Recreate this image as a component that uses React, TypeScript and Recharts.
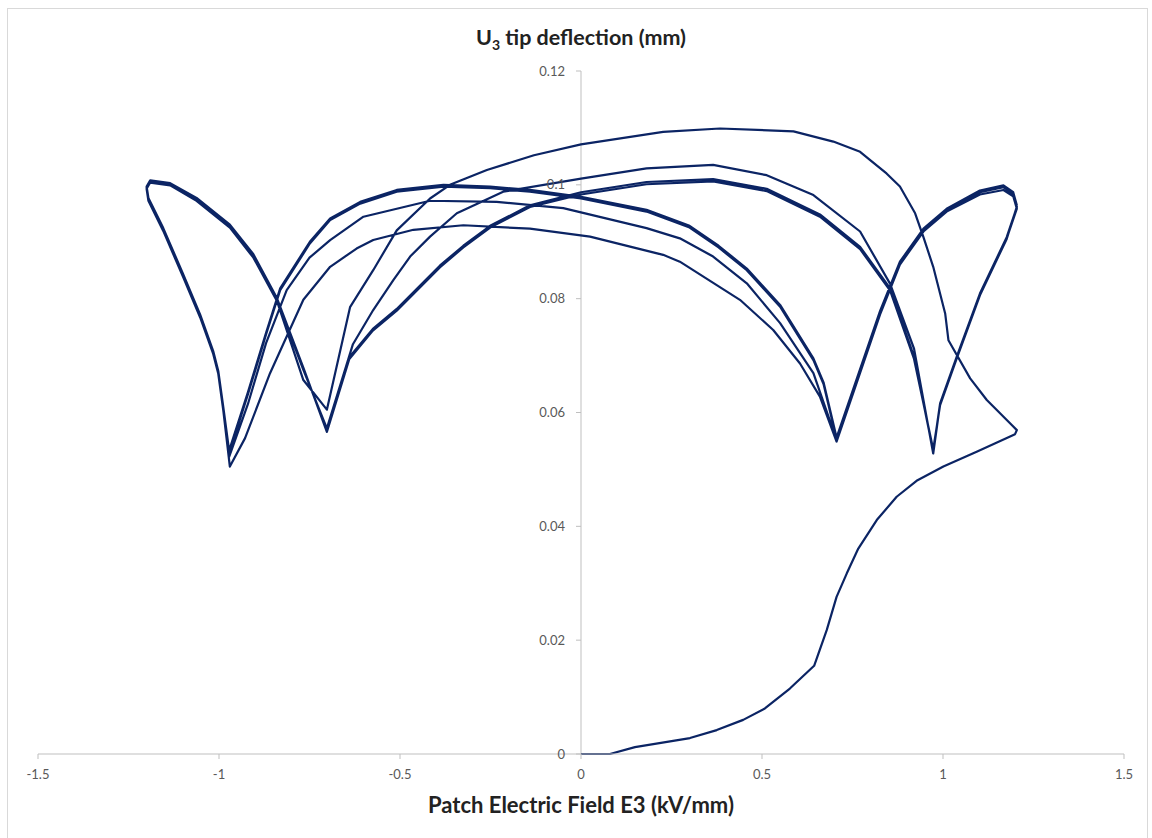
import React from 'react';
import { LineChart, Line, XAxis, YAxis, ReferenceLine } from 'recharts';

// Patch electric field E3 (kV/mm) vs U3 tip deflection (mm), traced in drawing order
const initialLoading: [number, number][] = [
  [0, 0], [0.08, 0], [0.149, 0.0012], [0.301, 0.0028], [0.375, 0.0042], [0.448, 0.006],
  [0.508, 0.008], [0.577, 0.0115], [0.644, 0.0155], [0.679, 0.0218], [0.706, 0.0276],
  [0.734, 0.0317], [0.766, 0.0361], [0.817, 0.0411], [0.872, 0.0452], [0.927, 0.048],
  [1.001, 0.0505], [1.093, 0.0531], [1.199, 0.0562], [1.204, 0.0569],
];

const unload1: [number, number][] = [
  [1.19, 0.0578], [1.121, 0.0622], [1.075, 0.066], [1.015, 0.0727], [1.006, 0.0774],
  [0.973, 0.0856], [0.946, 0.0908], [0.923, 0.095], [0.881, 0.0997], [0.844, 0.102],
  [0.798, 0.1044], [0.771, 0.1058], [0.697, 0.1076], [0.587, 0.1094], [0.384, 0.1099],
  [0.227, 0.1093], [0, 0.1071], [-0.13, 0.1052], [-0.26, 0.1026], [-0.362, 0.1],
  [-0.417, 0.0976], [-0.509, 0.092], [-0.574, 0.085], [-0.638, 0.0785], [-0.702, 0.0605],
  [-0.767, 0.0657], [-0.84, 0.0796], [-0.905, 0.0872], [-0.97, 0.0925], [-1.062, 0.0972],
  [-1.135, 0.0999], [-1.19, 0.1004], [-1.2, 0.0993],
];

const load1: [number, number][] = [
  [-1.195, 0.0972], [-1.154, 0.0919], [-1.099, 0.0838], [-1.052, 0.0767], [-1.016, 0.0703],
  [-1.002, 0.0668], [-0.988, 0.0603], [-0.97, 0.0505], [-0.928, 0.0555], [-0.859, 0.0669],
  [-0.767, 0.0798], [-0.693, 0.0856], [-0.62, 0.0888], [-0.574, 0.0903], [-0.463, 0.0921],
  [-0.325, 0.0929], [-0.141, 0.0923], [0.025, 0.0909], [0.227, 0.0877], [0.273, 0.0865],
  [0.439, 0.0798], [0.531, 0.0745], [0.605, 0.0686], [0.66, 0.0628], [0.706, 0.0549],
  [0.826, 0.0772], [0.881, 0.086], [0.946, 0.0918], [1.01, 0.0953], [1.102, 0.0983],
  [1.167, 0.0991], [1.194, 0.098], [1.204, 0.0958],
];

const unload2: [number, number][] = [
  [1.176, 0.0906], [1.102, 0.0808], [1.038, 0.0697], [0.992, 0.0615], [0.973, 0.0528],
  [0.92, 0.0712], [0.854, 0.0826], [0.771, 0.0918], [0.642, 0.0982], [0.513, 0.1017],
  [0.365, 0.1035], [0.181, 0.1029], [0, 0.1011], [-0.215, 0.0988], [-0.343, 0.095],
  [-0.417, 0.0909], [-0.472, 0.0874], [-0.518, 0.0833], [-0.574, 0.078], [-0.63, 0.072],
  [-0.702, 0.0572], [-0.767, 0.0675], [-0.84, 0.0798], [-0.905, 0.0875], [-0.97, 0.0927],
  [-1.062, 0.0974], [-1.135, 0.1001], [-1.19, 0.1006], [-1.2, 0.0995],
];

const load2: [number, number][] = [
  [-1.195, 0.0974], [-1.154, 0.0921], [-1.099, 0.084], [-1.052, 0.0769], [-1.016, 0.0705],
  [-1.002, 0.067], [-0.988, 0.0606], [-0.972, 0.0522], [-0.92, 0.0615], [-0.87, 0.0722],
  [-0.813, 0.0815], [-0.75, 0.0872], [-0.693, 0.0903], [-0.601, 0.0944], [-0.417, 0.0972],
  [-0.233, 0.097], [-0.049, 0.0959], [0.181, 0.0924], [0.273, 0.0906], [0.365, 0.0874],
  [0.458, 0.0827], [0.55, 0.0757], [0.642, 0.0669], [0.706, 0.0552], [0.826, 0.0775],
  [0.881, 0.0862], [0.946, 0.092], [1.01, 0.0955], [1.102, 0.0987], [1.167, 0.0996],
  [1.194, 0.0984], [1.204, 0.0961],
];

const unload3: [number, number][] = [
  [1.176, 0.0908], [1.102, 0.0809], [1.038, 0.0698], [0.992, 0.0616], [0.973, 0.0532],
  [0.92, 0.0698], [0.854, 0.0818], [0.771, 0.0891], [0.66, 0.0948], [0.513, 0.0993],
  [0.365, 0.101], [0.181, 0.1005], [0, 0.0987], [-0.141, 0.0964], [-0.251, 0.0928],
  [-0.325, 0.0893], [-0.39, 0.0858], [-0.454, 0.0817], [-0.509, 0.0782], [-0.575, 0.0747],
  [-0.64, 0.0697], [-0.702, 0.0568], [-0.767, 0.0677], [-0.84, 0.0799], [-0.905, 0.0876],
  [-0.97, 0.0928], [-1.062, 0.0975], [-1.135, 0.1002], [-1.19, 0.1007], [-1.2, 0.0996],
];

const load3: [number, number][] = [
  [-1.195, 0.0975], [-1.154, 0.0922], [-1.099, 0.0841], [-1.052, 0.077], [-1.016, 0.0706],
  [-1.002, 0.0671], [-0.988, 0.0607], [-0.972, 0.0528], [-0.92, 0.0632], [-0.87, 0.0737],
  [-0.831, 0.0815], [-0.749, 0.0897], [-0.693, 0.0938], [-0.61, 0.0967], [-0.509, 0.0988],
  [-0.38, 0.0997], [-0.251, 0.0994], [-0.141, 0.0988], [0, 0.0976], [0.181, 0.0953],
  [0.3, 0.0925], [0.38, 0.089], [0.458, 0.085], [0.55, 0.0786], [0.642, 0.0692],
  [0.67, 0.065], [0.706, 0.0553], [0.826, 0.0776], [0.881, 0.0863], [0.946, 0.0921],
  [1.01, 0.0956], [1.102, 0.0988], [1.167, 0.0997], [1.194, 0.0985], [1.204, 0.0962],
];

const unload4: [number, number][] = [
  [1.176, 0.0905], [1.102, 0.0806], [1.038, 0.0695], [0.992, 0.0613], [0.973, 0.0535],
  [0.92, 0.0694], [0.854, 0.0814], [0.771, 0.0887], [0.66, 0.0944], [0.513, 0.0989],
  [0.365, 0.1006], [0.181, 0.1001], [0, 0.0983], [-0.141, 0.0961], [-0.251, 0.0925],
  [-0.325, 0.089], [-0.39, 0.0855], [-0.454, 0.0814], [-0.509, 0.0779], [-0.575, 0.0744],
  [-0.64, 0.0694], [-0.702, 0.0566], [-0.767, 0.0679], [-0.84, 0.0801], [-0.905, 0.0878],
  [-0.97, 0.093], [-1.062, 0.0977], [-1.135, 0.1003], [-1.19, 0.1008], [-1.2, 0.0997],
];

const load4: [number, number][] = [
  [-1.195, 0.0977], [-1.154, 0.0924], [-1.099, 0.0843], [-1.052, 0.0772], [-1.016, 0.0708],
  [-1.002, 0.0673], [-0.988, 0.0609], [-0.972, 0.0533], [-0.92, 0.0636], [-0.87, 0.074],
  [-0.831, 0.0818], [-0.749, 0.09], [-0.693, 0.0941], [-0.61, 0.097], [-0.509, 0.0991],
  [-0.38, 0.1], [-0.251, 0.0997], [-0.141, 0.0991], [0, 0.0979], [0.181, 0.0956],
  [0.3, 0.0928], [0.38, 0.0893], [0.458, 0.0853], [0.55, 0.0789], [0.642, 0.0695],
  [0.67, 0.0653], [0.706, 0.0556], [0.826, 0.0778], [0.881, 0.0865], [0.946, 0.0923],
  [1.01, 0.0958], [1.102, 0.099], [1.167, 0.0999], [1.194, 0.0987], [1.204, 0.0964],
];

const xTicks = [-1.5, -1, -0.5, 0, 0.5, 1, 1.5];
const yTicks = [0, 0.02, 0.04, 0.06, 0.08, 0.1, 0.12];
const yTickLabels = ['0', '0.02', '0.04', '0.06', '0.08', '0.1', '0.12'];

const segments = [initialLoading, unload1, load1, unload2, load2, unload3, load3, unload4, load4];
const data = segments.flat().map(([e, u]) => ({ e, u }));

const AXIS_GRAY = '#bfbfbf';
const TEXT_GRAY = '#595959';
const LINE_COLOR = '#0b2464';
const FONT = 'Lato, "Open Sans", sans-serif';

export default function App() {
  return (
    <div style={{ position: 'absolute', left: 0, top: 0, width: 1152, height: 838, background: '#fff', fontFamily: FONT, overflow: 'hidden' }}>
      <div style={{ position: 'absolute', left: 7, top: 8, width: 1141, height: 850, border: '1px solid #d9d9d9', boxSizing: 'border-box' }} />
      <div style={{ position: 'absolute', left: 0, top: 0 }}>
        <LineChart width={1152} height={838} data={data} margin={{ top: 71, right: 28, bottom: 54, left: 38 }}>
          <XAxis
            type="number"
            dataKey="e"
            domain={[-1.5, 1.5]}
            ticks={xTicks}
            height={30}
            stroke={AXIS_GRAY}
            tickSize={5}
            tickMargin={11}
            tick={{ fill: TEXT_GRAY, fontSize: 13, fontFamily: FONT }}
            allowDataOverflow
          />
          <YAxis type="number" domain={[0, 0.12]} hide />
          <ReferenceLine x={0} stroke={AXIS_GRAY} strokeWidth={1} />
          {yTicks.map((t, i) => (
            <ReferenceLine
              key={t}
              segment={[{ x: -0.0138, y: t }, { x: 0, y: t }]}
              stroke={AXIS_GRAY}
              label={{ value: yTickLabels[i], position: 'left', offset: 11, fill: TEXT_GRAY, fontSize: 13, fontFamily: FONT }}
            />
          ))}
          <Line
            dataKey="u"
            type="linear"
            stroke={LINE_COLOR}
            strokeWidth={2.2}
            strokeLinejoin="round"
            dot={false}
            isAnimationActive={false}
          />
        </LineChart>
      </div>
      <div style={{ position: 'absolute', left: 281, width: 600, top: 23, textAlign: 'center', fontSize: 21.5, fontWeight: 700, lineHeight: '28px', color: '#222' }}>
        U<sub style={{ fontSize: 14, lineHeight: 0 }}>3</sub> tip deflection (mm)
      </div>
      <div style={{ position: 'absolute', left: 281, width: 600, top: 791, textAlign: 'center', fontSize: 22, fontWeight: 700, lineHeight: '28px', color: '#222' }}>
        Patch Electric Field E3 (kV/mm)
      </div>
    </div>
  );
}
